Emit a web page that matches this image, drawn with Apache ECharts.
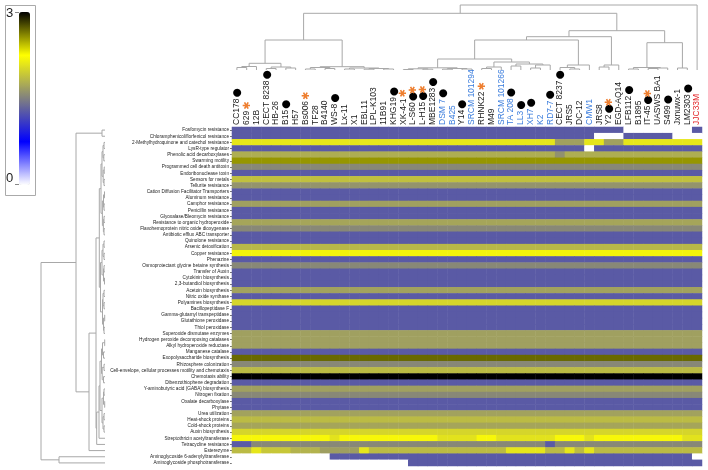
<!DOCTYPE html>
<html>
<head>
<meta charset="utf-8">
<script src="https://cdn.jsdelivr.net/npm/echarts@6/dist/echarts.min.js"></script>
<style>
html,body{margin:0;padding:0;background:#fff;}
#main{width:708px;height:470px;}
</style>
</head>
<body>
<div id="main"></div>
<script>
// strains (columns), left to right
var strains = ['CC178','629','12B','CECT 8238','HB-26','B15','H57','Bs006','TF28','B4140','WS-8','Lx-11','X1','EBL11','LPL-K103','11B91','KHG19','XK-4-1','L-S60','L-H15','MBE1283','DSM 7','B425','Y14','SRCM 101294','RHNK22','M49','SRCM 101266','TA 208','LL3','XH7','K2','RD7-7','CECT 8237','JRS5','DC-12','CMW1','JRS8','Y2','EGD-AQ14','LFB112','B1895','IT-45','UASWS BA1','S499','Jxnuwx-1','LM2303','JJC33M'];
var blueStrains = ['DSM 7','B425','SRCM 101294','SRCM 101266','TA 208','LL3','XH7','K2','RD7-7','CMW1'];
var redStrains = ['JJC33M'];
var dotStrains = ['CC178','CECT 8238','B15','WS-8','KHG19','L-S60','L-H15','MBE1283','DSM 7','Y14','TA 208','LL3','XH7','RD7-7','CECT 8237','Y2','LFB112','IT-45','S499','LM2303'];
var starStrains = ['629','Bs006','XK-4-1','L-S60','L-H15','RHNK22','Y2','IT-45'];

// features (rows), top to bottom
var features = ['Fosfomycin resistance','Chloramphenicol/florfenicol resistance','2-Methylhydroquinone and catechol resistance','LysR-type regulator','Phenolic acid decarboxylases','Swarming motility','Programmed cell death antitoxin','Endoribonuclease toxin','Sensors for metals','Tellurite resistance','Cation Diffusion Facilitator Transporters','Aluminum resistance','Camphor resistance','Penicillin resistance','Glyoxalase/Bleomycin resistance','Resistance to organic hydroperoxide','Flavohemoprotein nitric oxide dioxygenase','Antibiotic efflux ABC transporter','Quinolone resistance','Arsenic detoxification','Copper resistance','Phenazine','Osmoprotectant glycine betaine synthesis','Transfer of Auxin','Cytokinin biosynthesis','2,3-butandiol biosynthesis','Acetoin biosynthesis','Nitric oxide synthase','Polyamines biosynthesis','Bacillopeptidase F','Gamma-glutamyl transpeptidase','Glutathione peroxidase','Thiol peroxidase','Superoxide dismutase enzymes','Hydrogen peroxide decomposing catalases','Alkyl hydroperoxide reductase','Manganese catalase','Exopolysaccharide biosynthesis','Rhizosphere colonization','Cell-envelope, cellular processes motility and chemotaxis','Chemotaxis ability','Dibenzothiophene degradation','Y-aminobutyric acid (GABA) biosynthesis','Nitrogen fixation','Oxalate decarboxylase','Phytase','Urea utilization','Heat-shock proteins','Cold-shock proteins','Auxin biosynthesis','Streptothricin acetyltransferase','Tetracycline resistance','Esterezyme','Aminoglycoside 6-adenylyltransferase','Aminoglycoside phosphotransferase'];

// value of each row for most strains
var rowBase = [1.28,1.28,2.1,1.28,1.77,2.56,1.55,1.28,1.88,1.62,
               1.28,1.28,1.69,1.28,1.28,1.72,1.55,1.28,1.28,1.83,
               2.18,1.28,1.55,1.28,1.28,1.28,1.7,1.28,2.0,1.28,
               1.28,1.28,1.28,1.69,1.69,1.69,1.28,2.69,1.55,1.85,
               3.0,1.28,1.69,1.55,1.28,1.28,1.7,1.85,1.72,2.0,
               2.2,1.55,1.85,1.28,1.28];
// [row, first strain, last strain, value] where a row differs
var cellRuns = [
  [0,40,46,0],
  [1,37,39,0],[1,45,47,0],
  [2,33,35,1.69],[2,38,39,1.69],
  [3,36,36,0],
  [4,33,33,1.6],
  [50,10,10,2.08],[50,21,24,2.08],[50,27,32,2.08],[50,36,36,2.08],[50,46,47,2.08],
  [51,0,1,1.28],[51,32,32,1.28],
  [52,2,2,2.1],[52,3,5,1.92],[52,6,8,1.8],[52,9,12,1.68],[52,13,13,2.1],[52,28,31,2.1],[52,34,34,2.1],[52,36,36,2.1],
  [53,0,9,0],[53,47,47,0],
  [54,0,17,0]
];

// dendrograms: [left, right, height]
var topTree = [
  [
    [[[[0,1,2.5],2,3.5],[[3,4,1.5],[5,6,2],3],6.7],
     [[[7,8,1],[9,10,1.5],2.5],[[11,12,1],[[13,14,0.8],[15,16,1],1.5],2],3.3],30],
    [
      [
        [[[[[17,18,0.5],[19,20,0.8],1.2],[[21,22,0.8],[23,24,1],1.5],2.2],
          [[[25,26,1.5],27,3],[[28,29,4],[[30,31,2],32,5],6],8],11],
         [[33,[34,35,1],2.5],36,5],30],
        [[37,38,3],39,5],33.3],
      [[[40,41,1],[[42,43,1.5],44,2],2.5],[45,46,2],27.3],39.3],
    56.7],
  47,65];

var leftTree = [
  [[0,1,3],
   [
     [
       [[[[[2,3,1],[4,5,1.2],2],[[6,7,0.8],[8,9,1],1.8],3],[[[10,11,0.5],[12,13,1],1.5],[[14,15,1],[16,17,1],1.6],2.6],4],
        [[[[18,19,1],[20,21,1],2],[[22,23,1],[24,25,0.5],1.5],3],[[[26,27,1],[28,29,1],2],[[30,31,0.3],[32,33,1],1.5],2.5],4.5],5.7],
       [[[[[[34,35,0.3],[36,37,1.5],2.5],[[38,39,1],[40,41,1.5],2.8],3.5],[[[42,43,1],[44,45,0.3],1.5],[[46,47,1],[48,49,1],2],3],5],50,6],51,8.3],
       9],
     52,16],
   29],
  [53,54,46],
  64];

function walk(node, out) {
  if (typeof node === 'number') return {p: node, h: 0};
  var a = walk(node[0], out), b = walk(node[1], out), h = node[2];
  out.push([a.p, a.h, b.p, b.h, h]);
  return {p: (a.p + b.p) / 2, h: h};
}
var topSegs = [], leftSegs = [];
walk(topTree, topSegs);
walk(leftTree, leftSegs);

var heatData = [];
for (var r = 0; r < features.length; r++) {
  for (var c = 0; c < strains.length; c++) {
    var v = rowBase[r];
    cellRuns.forEach(function (run) {
      if (run[0] === r && c >= run[1] && c <= run[2]) v = run[3];
    });
    heatData.push([c, r, v]);
  }
}

var font = '"Liberation Sans", Arial, sans-serif';
var colFont = '8.5px ' + font;
var lineColor = '#a8a8a8';
var measureCtx = document.createElement('canvas').getContext('2d');
measureCtx.font = colFont;

function dendroRender(swap) {
  return function (params, api) {
    var pa = api.value(0), ha = api.value(1), pb = api.value(2), hb = api.value(3), h = api.value(4);
    var pts = [[pa, ha], [pa, h], [pb, h], [pb, hb]].map(function (q) {
      return api.coord(swap ? [q[1], q[0]] : q);
    });
    return {type: 'polyline', shape: {points: pts}, style: {stroke: lineColor, fill: null, lineWidth: 1}};
  };
}

// strain names written upward from the top of the heatmap, with markers after them
function strainLabel(params, api) {
  var i = api.value(0);
  var name = strains[i];
  var pt = api.coord([i, 0]);
  var color = blueStrains.indexOf(name) >= 0 ? '#3b7ddd' : (redStrains.indexOf(name) >= 0 ? '#e3262a' : '#1a1a1a');
  var w = measureCtx.measureText(name).width;
  var kids = [{type: 'text', x: 0, y: 0, style: {text: name, font: colFont, fill: color, align: 'left', verticalAlign: 'middle'}}];
  var off = w + 1;
  if (dotStrains.indexOf(name) >= 0) {
    kids.push({type: 'text', x: off, y: 0.5, style: {text: '●', font: '10.5px "DejaVu Sans"', fill: '#000', align: 'left', verticalAlign: 'middle'}});
    off += 7;
  }
  if (starStrains.indexOf(name) >= 0) {
    kids.push({type: 'text', x: off, y: 0.5, style: {text: '✱', font: '10px "DejaVu Sans"', fill: '#ee7f30', align: 'left', verticalAlign: 'middle'}});
  }
  return {type: 'group', x: pt[0], y: params.coordSys.y - 2, rotation: Math.PI / 2, children: kids};
}

var myChart = echarts.init(document.getElementById('main'));
var option = {
  backgroundColor: '#fff',
  animation: false,
  grid: [
    {left: 232, top: 127, width: 470, height: 339},
    {left: 232, top: 5, width: 470, height: 65},
    {left: 41, top: 127, width: 64, height: 339}
  ],
  xAxis: [
    {
      type: 'category', gridIndex: 0, position: 'top', data: strains,
      axisLine: {show: false}, axisTick: {show: false}, splitLine: {show: false},
      axisLabel: {show: false}
    },
    {type: 'value', gridIndex: 1, min: -0.5, max: 47.5, show: false},
    {type: 'value', gridIndex: 2, min: 0, max: 64, inverse: true, show: false}
  ],
  yAxis: [
    {
      type: 'category', gridIndex: 0, data: features, inverse: true,
      axisLine: {show: false}, splitLine: {show: false},
      axisTick: {show: true, length: 2, alignWithLabel: true, lineStyle: {color: '#777'}},
      axisLabel: {interval: 0, margin: 3, fontSize: 4.7, fontFamily: font, color: '#222'}
    },
    {type: 'value', gridIndex: 1, min: 0, max: 65, show: false},
    {type: 'value', gridIndex: 2, min: -0.5, max: 54.5, inverse: true, show: false}
  ],
  visualMap: {
    type: 'continuous', min: 0, max: 3, seriesIndex: 0, dimension: 2,
    calculable: false, hoverLink: false, padding: 0,
    left: 19, top: 12, itemWidth: 11, itemHeight: 173,
    inRange: {color: ['#ffffff', '#0000ff', '#808080', '#ffff00', '#000000']},
    textStyle: {color: 'transparent'}
  },
  graphic: [
    {type: 'rect', left: 3, top: 3, shape: {width: 30, height: 190}, style: {fill: null, stroke: '#aaa', lineWidth: 1}, z: 1},
    {type: 'text', left: 6, top: 7, style: {text: '3', font: '13px ' + font, fill: '#222'}},
    {type: 'text', left: 6, top: 172, style: {text: '0', font: '13px ' + font, fill: '#222'}},
    {type: 'line', shape: {x1: 15, y1: 12.5, x2: 19, y2: 12.5}, style: {stroke: '#888'}},
    {type: 'line', shape: {x1: 15, y1: 184.5, x2: 19, y2: 184.5}, style: {stroke: '#888'}}
  ],
  series: [
    {
      type: 'heatmap', xAxisIndex: 0, yAxisIndex: 0, data: heatData,
      itemStyle: {borderWidth: 0}, emphasis: {disabled: true}, progressive: 0
    },
    {
      type: 'custom', xAxisIndex: 0, yAxisIndex: 0, silent: true, clip: false,
      data: strains.map(function (s, i) { return [i, 0]; }),
      renderItem: strainLabel
    },
    {
      type: 'custom', xAxisIndex: 1, yAxisIndex: 1, data: topSegs,
      renderItem: dendroRender(false), silent: true
    },
    {
      type: 'custom', xAxisIndex: 2, yAxisIndex: 2, data: leftSegs,
      renderItem: dendroRender(true), silent: true
    }
  ]
};
myChart.setOption(option);
</script>
</body>
</html>
